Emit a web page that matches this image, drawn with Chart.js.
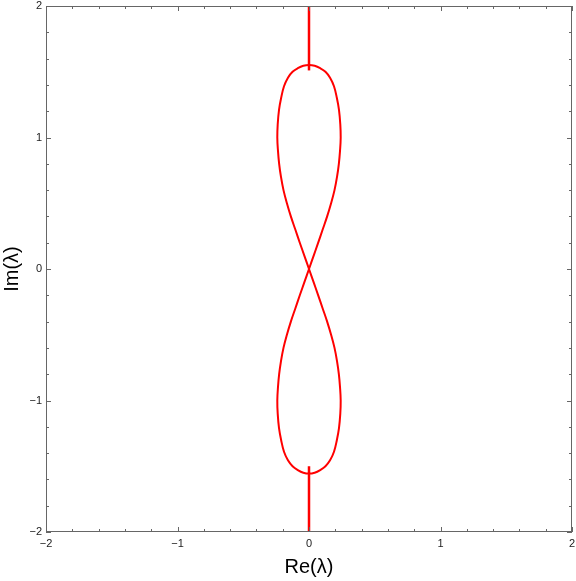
<!DOCTYPE html>
<html>
<head>
<meta charset="utf-8">
<script src="https://cdn.jsdelivr.net/npm/chart.js@4.4.1/dist/chart.umd.min.js"></script>
<style>
  html, body { margin: 0; padding: 0; background: #fff; }
  #wrap { width: 576px; height: 581px; }
</style>
</head>
<body>
<div id="wrap"><canvas id="chart" width="576" height="581"></canvas></div>
<script>
// axis ticks
const tickValues = [-2, -1, 0, 1, 2];
const tickLabels = ['\u22122', '\u22121', '0', '1', '2'];
const minorStep = 0.2;

// upper loop: up the right side, over the top, down the left side
const topLoopRe = [0, 0.035, 0.07, 0.104, 0.138, 0.168, 0.194, 0.213, 0.227, 0.236, 0.241, 0.238, 0.228, 0.212, 0.19, 0.16, 0.125, 0.085, 0.043, 0,
  -0.043, -0.085, -0.125, -0.16, -0.19, -0.212, -0.228, -0.238, -0.241, -0.236, -0.227, -0.213, -0.194, -0.168, -0.138, -0.104, -0.07, -0.035, 0];
const topLoopIm = [0, 0.1, 0.2, 0.3, 0.4, 0.5, 0.6, 0.7, 0.8, 0.9, 1.0, 1.1, 1.21, 1.3, 1.39, 1.455, 1.5, 1.527, 1.545, 1.551,
  1.545, 1.527, 1.5, 1.455, 1.39, 1.3, 1.21, 1.1, 1.0, 0.9, 0.8, 0.7, 0.6, 0.5, 0.4, 0.3, 0.2, 0.1, 0];

// lower loop: down the right side, round the bottom, up the left side
const bottomLoopRe = [0, 0.035, 0.07, 0.104, 0.138, 0.168, 0.194, 0.213, 0.227, 0.236, 0.241, 0.238, 0.228, 0.212, 0.19, 0.16, 0.125, 0.085, 0.043, 0,
  -0.043, -0.085, -0.125, -0.16, -0.19, -0.212, -0.228, -0.238, -0.241, -0.236, -0.227, -0.213, -0.194, -0.168, -0.138, -0.104, -0.07, -0.035, 0];
const bottomLoopIm = [0, -0.1, -0.2, -0.3, -0.4, -0.5, -0.6, -0.7, -0.8, -0.9, -1.0, -1.1, -1.21, -1.3, -1.39, -1.455, -1.5, -1.529, -1.549, -1.556,
  -1.549, -1.529, -1.5, -1.455, -1.39, -1.3, -1.21, -1.1, -1.0, -0.9, -0.8, -0.7, -0.6, -0.5, -0.4, -0.3, -0.2, -0.1, 0];

// spikes along the imaginary axis
const topSpikeRe = [0, 0];
const topSpikeIm = [1.51, 2];
const bottomSpikeRe = [0, 0];
const bottomSpikeIm = [-1.5, -2];

function toPoints(re, im) {
  return re.map((x, i) => ({ x: x, y: im[i] }));
}

const frameColor = '#666666';
const red = '#ff0000';

// frame with inward ticks on all four sides
const framePlugin = {
  id: 'frame',
  afterDatasetsDraw(chart) {
    const { ctx, chartArea: a, scales } = chart;
    ctx.save();
    ctx.strokeStyle = frameColor;
    ctx.lineWidth = 1;
    ctx.strokeRect(a.left + 0.5, a.top + 0.5, a.right - a.left - 1, a.bottom - a.top - 1);
    ctx.beginPath();
    const n = Math.round(4 / minorStep);
    for (let i = 0; i <= n; i++) {
      const v = -2 + i * minorStep;
      const major = tickValues.some(t => Math.abs(t - v) < 1e-6);
      const len = major ? 5 : 3;
      const px = Math.round(scales.x.getPixelForValue(v)) + 0.5;
      const py = Math.round(scales.y.getPixelForValue(v)) + 0.5;
      ctx.moveTo(px, a.bottom); ctx.lineTo(px, a.bottom - len);
      ctx.moveTo(px, a.top); ctx.lineTo(px, a.top + len);
      ctx.moveTo(a.left, py); ctx.lineTo(a.left + len, py);
      ctx.moveTo(a.right, py); ctx.lineTo(a.right - len, py);
    }
    ctx.stroke();
    ctx.restore();
  }
};

const lineStyle = {
  showLine: true,
  borderColor: red,
  backgroundColor: red,
  borderWidth: 2,
  pointRadius: 0,
  tension: 0.4,
  fill: false
};

new Chart(document.getElementById('chart').getContext('2d'), {
  type: 'scatter',
  data: {
    datasets: [
      Object.assign({ data: toPoints(topLoopRe, topLoopIm) }, lineStyle),
      Object.assign({ data: toPoints(bottomLoopRe, bottomLoopIm) }, lineStyle),
      Object.assign({ data: toPoints(topSpikeRe, topSpikeIm) }, lineStyle, { borderWidth: 2.5, tension: 0 }),
      Object.assign({ data: toPoints(bottomSpikeRe, bottomSpikeIm) }, lineStyle, { borderWidth: 2.5, tension: 0 })
    ]
  },
  options: {
    responsive: false,
    animation: false,
    layout: { padding: { top: 6, right: 4, left: 0, bottom: 0 } },
    plugins: {
      legend: { display: false },
      tooltip: { enabled: false }
    },
    scales: {
      x: {
        type: 'linear',
        min: -2,
        max: 2,
        afterBuildTicks: s => { s.ticks = tickValues.map(v => ({ value: v })); },
        afterFit: s => { s.height = 49; s.paddingLeft = 0; s.paddingRight = 0; },
        grid: { display: false, drawTicks: false },
        border: { display: false },
        ticks: {
          padding: 5,
          color: '#222',
          font: { family: 'Arial, "Liberation Sans"', size: 11 },
          maxRotation: 0,
          callback: v => tickLabels[tickValues.indexOf(v)]
        },
        title: {
          display: true,
          text: 'Re(\u03bb)',
          color: '#000',
          font: { family: 'Arial, "Liberation Sans"', size: 20 },
          padding: { top: 0, bottom: 2 }
        }
      },
      y: {
        type: 'linear',
        min: -2,
        max: 2,
        afterBuildTicks: s => { s.ticks = tickValues.map(v => ({ value: v })); },
        afterFit: s => { s.width = 46; s.paddingTop = 0; s.paddingBottom = 0; },
        grid: { display: false, drawTicks: false },
        border: { display: false },
        ticks: {
          padding: 4,
          color: '#222',
          font: { family: 'Arial, "Liberation Sans"', size: 11 },
          callback: v => tickLabels[tickValues.indexOf(v)]
        },
        title: {
          display: true,
          text: 'Im(\u03bb)',
          color: '#000',
          font: { family: 'Arial, "Liberation Sans"', size: 20 },
          padding: { top: 0, bottom: 0 }
        }
      }
    }
  },
  plugins: [framePlugin]
});
</script>
</body>
</html>
